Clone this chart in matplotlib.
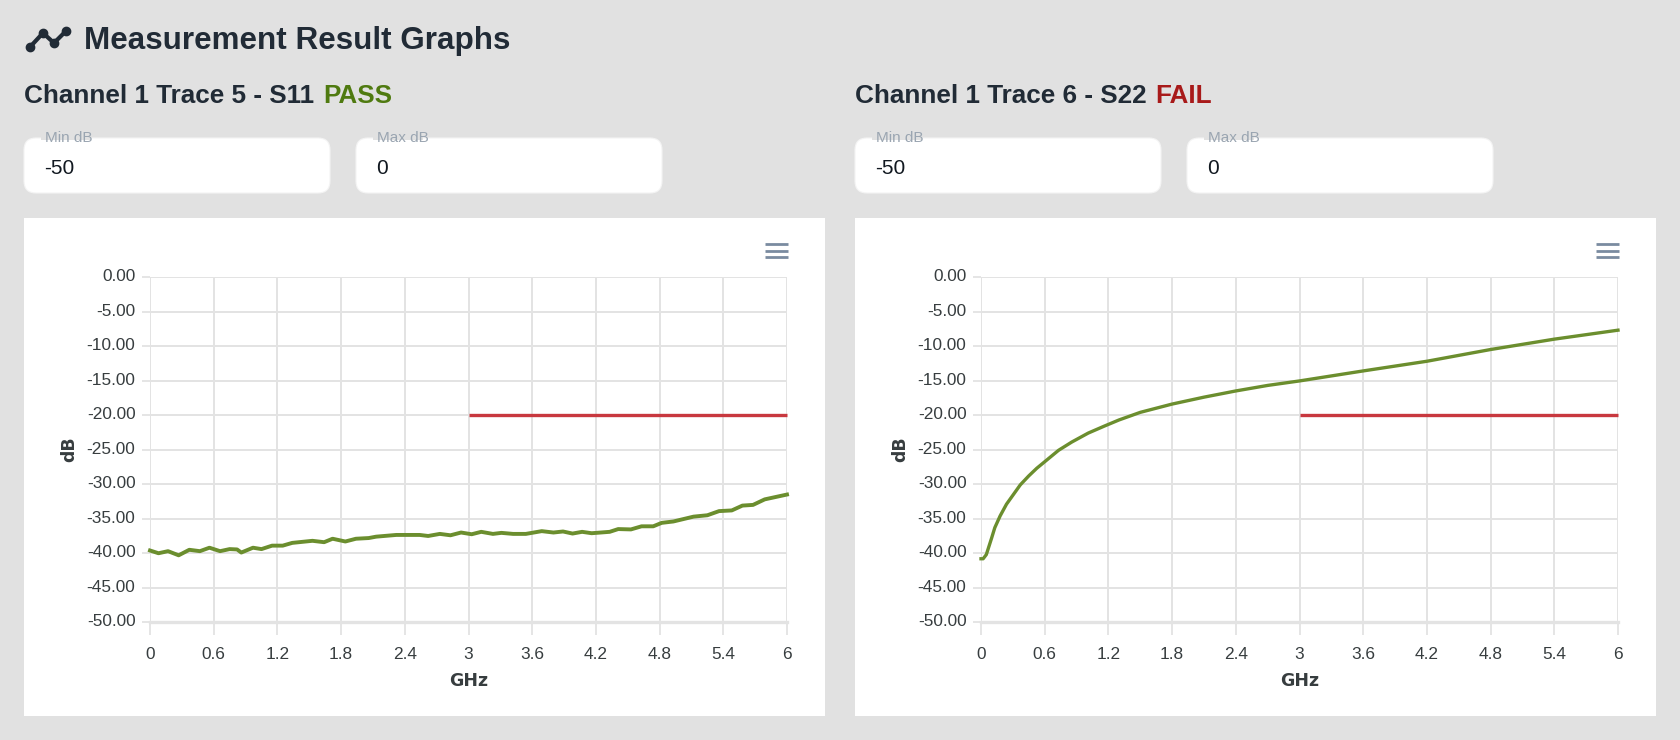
import matplotlib
matplotlib.use('Agg')
import matplotlib.pyplot as plt
from matplotlib.patches import FancyBboxPatch, Rectangle
from matplotlib.transforms import ScaledTranslation

plt.rcParams['font.family'] = ['Liberation Sans', 'DejaVu Sans']

W, H = 1680, 740

# S11 trace
s11_x = [0, 0.08, 0.17, 0.27, 0.37, 0.47, 0.56, 0.66, 0.75, 0.82, 0.86, 0.97, 1.05, 1.15, 1.25,
         1.34, 1.53, 1.64, 1.72, 1.84, 1.94, 2.06, 2.13, 2.32, 2.54, 2.62, 2.73, 2.83, 2.93,
         3.03, 3.12, 3.23, 3.31, 3.42, 3.54, 3.69, 3.8, 3.89, 3.98, 4.07, 4.16, 4.33, 4.41,
         4.53, 4.63, 4.74, 4.82, 4.93, 5.12, 5.25, 5.36, 5.48, 5.58, 5.68, 5.79, 5.88, 6]
s11_y = [-39.6, -40.0, -39.7, -40.3, -39.5, -39.7, -39.2, -39.7, -39.4, -39.45, -39.9, -39.2, -39.4,
         -38.9, -38.9, -38.5, -38.2, -38.4, -37.9, -38.3, -37.9, -37.8, -37.6, -37.35, -37.35, -37.5,
         -37.2, -37.4, -37.0, -37.25, -36.9, -37.2, -37.05, -37.2, -37.2, -36.8, -37.0, -36.85, -37.15,
         -36.9, -37.1, -36.9, -36.5, -36.55, -36.1, -36.1, -35.6, -35.4, -34.7, -34.5, -33.9, -33.8,
         -33.1, -33.0, -32.2, -31.9, -31.5]

# S22 trace
s22_x = [0, 0.02, 0.05, 0.075, 0.1, 0.13, 0.18, 0.24, 0.305, 0.37, 0.45, 0.525, 0.6, 0.73, 0.855,
         1.01, 1.16, 1.3, 1.5, 1.8, 2.1, 2.4, 2.7, 3, 3.6, 4.2, 4.8, 5.4, 6]
s22_y = [-40.8, -40.8, -40.2, -39.0, -37.8, -36.3, -34.6, -32.9, -31.5, -30.1, -28.8, -27.7, -26.75,
         -25.1, -23.9, -22.6, -21.6, -20.7, -19.6, -18.4, -17.4, -16.5, -15.7, -15.05, -13.6, -12.2,
         -10.5, -9.0, -7.7]

limit_x = [3, 6]
limit_y = [-20, -20]

x_ticks = [0, 0.6, 1.2, 1.8, 2.4, 3, 3.6, 4.2, 4.8, 5.4, 6]
x_labels = ['0', '0.6', '1.2', '1.8', '2.4', '3', '3.6', '4.2', '4.8', '5.4', '6']
y_ticks = [0, -5, -10, -15, -20, -25, -30, -35, -40, -45, -50]
y_labels = ['%.2f' % v for v in y_ticks]

BG = '#e1e1e1'
DARK = '#212b36'
GRID = '#e3e3e3'
GREEN = '#6b8e2e'
RED = '#c8383f'
LABEL = '#373d3f'


def plot_axes(fig, left, right, top, bottom):
    return fig.add_axes([left / W, 1 - bottom / H, (right - left) / W, (bottom - top) / H])


fig = plt.figure(figsize=(W / 100, H / 100), dpi=100, facecolor=BG)
page = fig.add_axes([0, 0, 1, 1])
page.set_xlim(0, W)
page.set_ylim(H, 0)
page.axis('off')

# header icon
page.plot([30, 43, 54, 66], [47, 33, 43, 31], color=DARK, lw=3, marker='o', ms=6, mfc=DARK, mec=DARK,
          solid_joinstyle='round')
page.text(84, 41, 'Measurement Result Graphs', fontsize=22.6, fontweight='bold', color=DARK, va='center')


def panel(x0, trace_title, status, status_color, sx, sy, line_w):
    t = page.text(x0, 96, trace_title, fontsize=18.8, fontweight='bold', color=DARK, va='center')
    page.annotate(status, xy=(1, 0), xycoords=t, xytext=(9, 0), textcoords='offset pixels',
                  fontsize=18.8, fontweight='bold', color=status_color, va='bottom')

    for bx, name, val in [(x0, 'Min dB', '-50'), (x0 + 332, 'Max dB', '0')]:
        page.add_patch(FancyBboxPatch((bx + 12, 138 + 12), 306 - 24, 55 - 24,
                                      boxstyle='round,pad=12,rounding_size=12', fc='white', ec='#f4f4f4', lw=0.8))
        page.add_patch(Rectangle((bx + 17, 132), 50, 8, fc=BG, ec='none', zorder=3))
        page.text(bx + 21, 138, name, fontsize=11, color='#9aa5b1', va='center', zorder=4)
        page.text(bx + 20, 168, val, fontsize=15, color='#111820', va='center')

    page.add_patch(Rectangle((x0, 218), 801, 498, fc='white', ec='none'))

    # menu icon
    for yy in (244, 250.5, 257):
        page.plot([x0 + 741, x0 + 764], [yy, yy], color='#7a8ba0', lw=2, solid_capstyle='butt')

    left = x0 + 126
    ax = plot_axes(fig, left, left + 637, 277, 622.3)
    ax.set_facecolor('none')
    ax.set_xlim(0, 6)
    ax.set_ylim(-50, 0)
    ax.set_xticks(x_ticks)
    ax.set_xticklabels(x_labels)
    ax.set_yticks(y_ticks)
    ax.set_yticklabels(y_labels)
    ax.grid(True, color=GRID, lw=1.4)
    ax.set_axisbelow(True)
    for s in ax.spines.values():
        s.set_visible(False)
    ax.tick_params(axis='x', length=9, width=1.3, color=GRID, labelsize=12.4, labelcolor=LABEL, pad=8.7)
    ax.tick_params(axis='y', length=6, width=1.3, color=GRID, labelsize=12.4, labelcolor=LABEL, pad=4.5)
    shift = ScaledTranslation(0, 2 / 100, fig.dpi_scale_trans)
    for lab in ax.get_yticklabels():
        lab.set_transform(lab.get_transform() + shift)
    ax.axhline(-50, color=GRID, lw=2.4, clip_on=False, zorder=1)

    ax.plot(limit_x, limit_y, color=RED, lw=2.4, solid_capstyle='butt', clip_on=False, zorder=3)
    ax.plot(sx, sy, color=GREEN, lw=line_w, clip_on=False, zorder=4)

    ax.set_xlabel('GHz', fontsize=12.5, fontweight='bold', family='DejaVu Sans', color=LABEL, labelpad=7)
    ax.set_ylabel('dB', fontsize=12.5, fontweight='bold', family='DejaVu Sans', color=LABEL, labelpad=6)


panel(24, 'Channel 1 Trace 5 - S11', 'PASS', '#4f7a10', s11_x, s11_y, 2.8)
panel(855, 'Channel 1 Trace 6 - S22', 'FAIL', '#a81a1a', s22_x, s22_y, 2.4)

plt.savefig('out.png', dpi=100, facecolor=BG)
